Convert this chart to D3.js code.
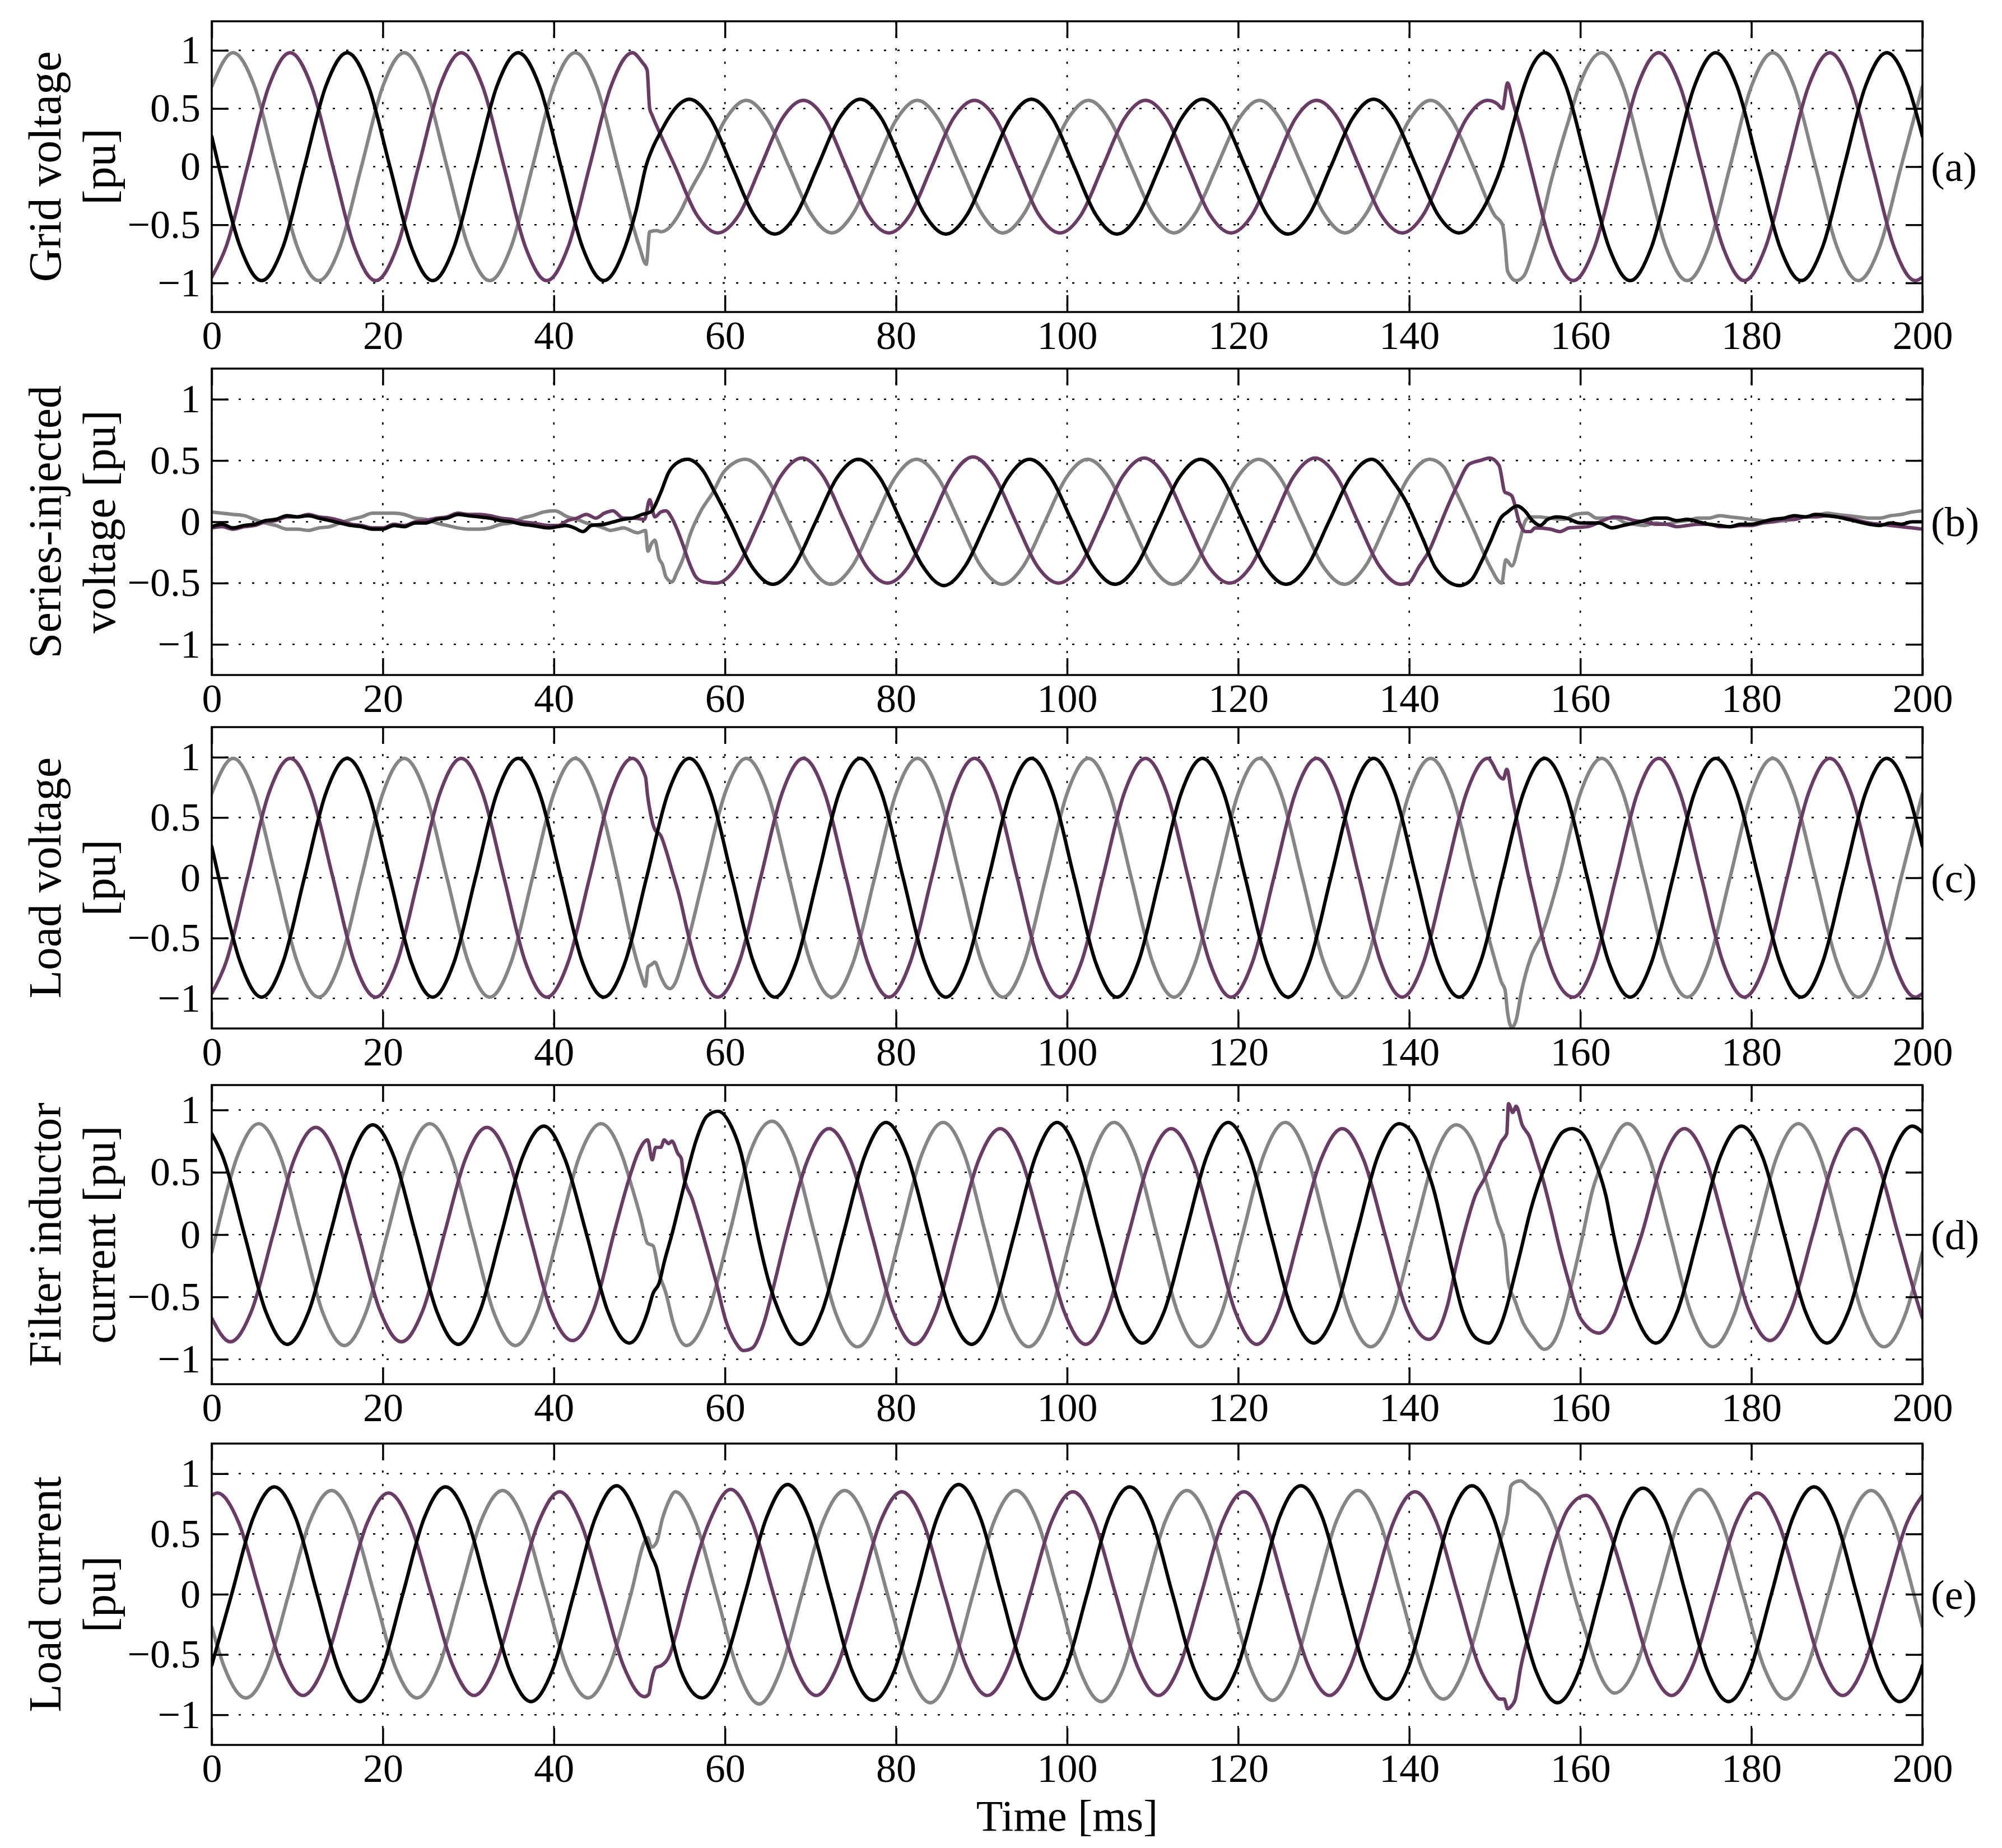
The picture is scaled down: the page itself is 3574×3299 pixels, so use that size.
<!DOCTYPE html>
<html><head><meta charset="utf-8">
<script src="https://cdn.jsdelivr.net/npm/d3@7"></script>
<style>html,body{margin:0;padding:0;background:#fff;}svg{display:block;}</style>
</head><body>
<script>
// ---------------- DATA ----------------
const timeTicks = [0,20,40,60,80,100,120,140,160,180,200];
const valueTicks = [-1,-0.5,0,0.5,1];
const panelLetters = ["(a)","(b)","(c)","(d)","(e)"];
const yLabelLines = [["Grid voltage","[pu]"],["Series-injected","voltage [pu]"],["Load voltage","[pu]"],["Filter inductor","current [pu]"],["Load current","[pu]"]];
const xLabel = "Time [ms]";
const yLimits = [1.25,1.25,1.25,1.2,1.25];

// (a) grid voltage
const gridBlack = [[0,0.26],[0.83,0],[3.33,-0.69],[5.83,-0.98],[8.33,-0.69],[10.83,0],[13.33,0.69],[15.83,0.98],[18.33,0.69],
[20.83,0],[23.33,-0.69],[25.83,-0.98],[28.33,-0.69],[30.83,0],[33.33,0.69],[35.83,0.98],[38.33,0.69],
[40.83,0],[43.33,-0.69],[45.83,-0.98],[48.33,-0.69],[49.6,-0.38],[50.83,0.02],[51.6,0.17],[52.5,0.3],[53.33,0.41],[54.7,0.54],
[55.83,0.58],[58.33,0.41],[60.83,0],[63.33,-0.41],[65.83,-0.58],[68.33,-0.41],[70.83,0],[73.33,0.41],
[75.83,0.58],[78.33,0.41],[80.83,0],[83.33,-0.41],[85.83,-0.58],[88.33,-0.41],[90.83,0],[93.33,0.41],
[95.83,0.58],[98.33,0.41],[100.83,0],[103.33,-0.41],[105.83,-0.58],[108.33,-0.41],[110.83,0],[113.33,0.41],
[115.83,0.58],[118.33,0.41],[120.83,0],[123.33,-0.41],[125.83,-0.58],[128.33,-0.41],[130.83,0],[133.33,0.41],
[135.83,0.58],[138.33,0.41],[140.83,0],[143.33,-0.41],[145.83,-0.57],[148.33,-0.4],[149.6,-0.22],[150.9,0.03],[152.1,0.35],[153.33,0.67],[154.4,0.87],
[155.83,0.98],[158.33,0.69],[160.83,0],[163.33,-0.69],[165.83,-0.98],[168.33,-0.69],[170.83,0],[173.33,0.69],
[175.83,0.98],[178.33,0.69],[180.83,0],[183.33,-0.69],[185.83,-0.98],[188.33,-0.69],[190.83,0],[193.33,0.69],
[195.83,0.98],[198.33,0.69],[200,0.26]];
const gridPurple = [[0,-0.95],[1.67,-0.69],[4.17,0],[6.67,0.69],[9.17,0.98],[11.67,0.69],[14.17,0],[16.67,-0.69],
[19.17,-0.98],[21.67,-0.69],[24.17,0],[26.67,0.69],[29.17,0.98],[31.67,0.69],[34.17,0],[36.67,-0.69],
[39.17,-0.98],[41.67,-0.69],[44.17,0],[46.67,0.69],[49.17,0.98],[50.3,0.9],[50.9,0.83],[51.2,0.5],[51.5,0.44],[52.5,0.27],
[54.17,0],[56.67,-0.41],[59.17,-0.57],[61.67,-0.41],[64.17,0],[66.67,0.41],[69.17,0.57],[71.67,0.41],
[74.17,0],[76.67,-0.41],[79.17,-0.57],[81.67,-0.41],[84.17,0],[86.67,0.41],[89.17,0.57],[91.67,0.41],
[94.17,0],[96.67,-0.41],[99.17,-0.57],[101.67,-0.41],[104.17,0],[106.67,0.41],[109.17,0.57],[111.67,0.41],
[114.17,0],[116.67,-0.41],[119.17,-0.57],[121.67,-0.41],[124.17,0],[126.67,0.41],[129.17,0.57],[131.67,0.41],
[134.17,0],[136.67,-0.41],[139.17,-0.57],[141.67,-0.41],[144.17,0],[146.67,0.41],[149.17,0.57],[150.3,0.54],[150.9,0.5],[151.5,0.72],[152.1,0.56],[153.2,0.28],
[154.17,0],[156.67,-0.69],[159.17,-0.98],[161.67,-0.69],[164.17,0],[166.67,0.69],[169.17,0.98],[171.67,0.69],
[174.17,0],[176.67,-0.69],[179.17,-0.98],[181.67,-0.69],[184.17,0],[186.67,0.69],[189.17,0.98],[191.67,0.69],
[194.17,0],[196.67,-0.69],[199.17,-0.98],[200,-0.95]];
const gridGray = [[0,0.69],[2.5,0.98],[5,0.69],[7.5,0],[10,-0.69],[12.5,-0.98],[15,-0.69],[17.5,0],
[20,0.69],[22.5,0.98],[25,0.69],[27.5,0],[30,-0.69],[32.5,-0.98],[35,-0.69],[37.5,0],
[40,0.69],[42.5,0.98],[45,0.69],[47.5,0],[50,-0.69],[50.8,-0.84],[51.2,-0.56],[52,-0.55],[52.5,-0.56],[53.4,-0.53],[54.7,-0.4],[56,-0.2],
[57.5,0],[60,0.4],[62.5,0.57],[65,0.4],[67.5,0],[70,-0.4],[72.5,-0.57],[75,-0.4],
[77.5,0],[80,0.4],[82.5,0.57],[85,0.4],[87.5,0],[90,-0.4],[92.5,-0.57],[95,-0.4],
[97.5,0],[100,0.4],[102.5,0.57],[105,0.4],[107.5,0],[110,-0.4],[112.5,-0.57],[115,-0.4],
[117.5,0],[120,0.4],[122.5,0.57],[125,0.4],[127.5,0],[130,-0.4],[132.5,-0.57],[135,-0.4],
[137.5,0],[140,0.4],[142.5,0.57],[145,0.4],[147.5,0],[150,-0.42],[150.9,-0.5],[151.2,-0.66],[151.5,-0.9],[152.5,-0.98],[153.4,-0.94],[154.3,-0.77],[155.4,-0.5],[156.5,-0.15],[157.5,0.12],[158.6,0.39],
[160,0.72],[162.5,0.98],[165,0.69],[167.5,0],[170,-0.69],[172.5,-0.98],[175,-0.69],[177.5,0],
[180,0.69],[182.5,0.98],[185,0.69],[187.5,0],[190,-0.69],[192.5,-0.98],[195,-0.69],[197.5,0],[200,0.69]];

// (b) series-injected voltage
const injBlack = [[0,-0.04],[1.2,-0.02],[2.5,-0.05],[3.8,-0.03],[5,-0.02],[6.3,0.01],[7.5,0.02],[8.8,0.05],[10,0.04],[11.3,0.05],[12.5,0.03],[13.8,0.01],[15,-0.01],[16.3,-0.03],[17.5,-0.04],[18.8,-0.06],[20,-0.06],[21.3,-0.03],[22.5,-0.04],[23.8,-0.01],[25,-0.01],[26.3,0.02],[27.5,0.03],[28.8,0.06],[30,0.05],[31.3,0.04],[32.5,0.03],[33.8,0.01],[35,0],[36.3,-0.02],[37.5,-0.03],
[39.4,-0.05],[40.4,-0.04],[41.4,-0.03],[42.4,-0.05],[43.4,-0.08],[44.4,-0.03],[45.9,-0.02],[47,0],[48.1,0.02],[49.2,0.03],[50.3,0.06],[51.3,0.08],[52.5,0.24],[53.4,0.4],[54.2,0.47],
[55.6,0.51],[57.5,0.41],[58.6,0.27],[60.6,0],[63.1,-0.36],[65.6,-0.51],[68.1,-0.36],[70.6,0],[73.1,0.36],
[75.6,0.51],[78.1,0.36],[80.6,0],[83.1,-0.36],[85.6,-0.52],[88.1,-0.36],[90.6,0],[93.1,0.36],
[95.6,0.51],[98.1,0.36],[100.6,0],[103.1,-0.36],[105.6,-0.51],[108.1,-0.36],[110.6,0],[113.1,0.36],
[115.6,0.51],[118.1,0.36],[120.6,0],[123.1,-0.36],[125.6,-0.51],[128.1,-0.36],[130.6,0],[133.1,0.36],
[135.6,0.51],[138.1,0.33],[139.5,0.18],[141.6,-0.14],[143.1,-0.38],[145.9,-0.52],[147.3,-0.47],[148.4,-0.33],[149.5,-0.16],[150.8,0.04],[151.5,0.08],[152.6,0.13],[153.5,0.09],[154.4,0.01],[155.3,-0.03],[156.2,0.02],[157.3,0.04],[158.4,0.03],[160,-0.01],[162.2,-0.01],[163.7,-0.05],[165,-0.03],
[166.3,-0.01],[167.5,0.01],[168.8,0.03],[170,0.03],[171.3,0.01],[172.5,0.02],[173.8,0],[175,-0.02],[176.3,-0.03],[177.5,-0.04],[178.8,-0.02],[180,-0.02],[181.3,0],[182.5,0.02],[183.8,0.03],[185,0.05],[186.3,0.04],[187.5,0.06],[188.8,0.05],[190,0.04],[191.3,0.02],[192.5,0],[193.8,-0.02],[195,-0.03],[196.3,-0.01],[197.5,-0.02],[198.8,0],[200,0]];
const injPurple = [[0,-0.05],[1.2,-0.04],[2.5,-0.06],[3.8,-0.04],[5,-0.03],[6.3,0],[7.5,0.01],[8.8,0.04],[10,0.04],[11.3,0.06],[12.5,0.04],[13.8,0.03],[15,0.01],[16.3,-0.02],[17.5,-0.03],[18.8,-0.05],[20,-0.05],[21.3,-0.02],[22.5,-0.03],[23.8,0],[25,0.01],[26.3,0.03],[27.5,0.04],[28.8,0.07],[30,0.06],[31.3,0.06],[32.5,0.05],[33.8,0.03],[35,0.02],[36.3,0],[37.5,-0.01],
[39.4,-0.03],[40.5,-0.03],[41.6,0.01],[42.7,0.03],[43.8,0.06],[44.9,0.03],[45.9,0.07],[46.9,0.09],[48.1,0.03],[49.2,0.03],[50.6,0.02],[51.2,0.18],[51.8,0.04],[52.5,0.08],[53.1,0.09],[53.8,0.03],[54.4,-0.06],[55.1,-0.19],[55.8,-0.33],[56.6,-0.45],[57.5,-0.49],
[59,-0.5],[61.5,-0.36],[64,0],[66.5,0.37],[69,0.52],[71.5,0.37],[74,0],[76.5,-0.36],
[79,-0.5],[81.5,-0.36],[84,0],[86.5,0.37],[89,0.53],[91.5,0.37],[94,0],[96.5,-0.36],
[99,-0.5],[101.5,-0.36],[104,0],[106.5,0.37],[109,0.52],[111.5,0.37],[114,0],[116.5,-0.36],
[119,-0.5],[121.5,-0.36],[124,0],[126.5,0.37],[129,0.52],[131.5,0.37],[134,0],[136.5,-0.36],
[139,-0.51],[139.9,-0.5],[141.2,-0.36],[142.3,-0.24],[143.4,-0.06],[144.4,0.11],[145.5,0.28],[147,0.47],[148.3,0.5],[149.4,0.52],[150.5,0.46],[151.2,0.24],[151.6,0.23],[152,0.21],[152.9,-0.01],[153.6,-0.08],[154.2,-0.08],[154.7,-0.05],[156.5,-0.06],[157.6,-0.08],[158.7,-0.05],[160.8,-0.04],[163,0.02],[163.9,0.04],[165.3,0.03],
[166.3,0.01],[167.5,0],[168.8,-0.02],[170,-0.02],[171.3,-0.04],[172.5,-0.03],[173.8,-0.02],[175,-0.02],[176.3,-0.04],[177.5,-0.04],[178.8,-0.03],[180,-0.03],[181.3,-0.01],[182.5,0],[183.8,0.02],[185,0.02],[186.3,0.04],[187.5,0.04],[188.8,0.05],[190,0.04],[191.3,0.03],[192.5,0.01],[193.8,-0.01],[195,-0.02],[196.3,-0.03],[197.5,-0.04],[198.8,-0.05],[200,-0.06]];
const injGray = [[0,0.08],[1.2,0.07],[2.5,0.06],[3.8,0.05],[5,0.02],[6.3,-0.01],[7.5,-0.03],[8.8,-0.06],[10,-0.06],[11.3,-0.07],[12.5,-0.05],[13.8,-0.04],[15,-0.01],[16.3,0.02],[17.5,0.04],[18.8,0.07],[20,0.07],[21.3,0.07],[22.5,0.06],[23.8,0.03],[25,0.02],[26.3,-0.01],[27.5,-0.03],[28.8,-0.05],[30,-0.06],[31.3,-0.06],[32.5,-0.05],[33.8,-0.02],[35,-0.01],[36.3,0.03],[37.5,0.05],
[38.8,0.08],[40.1,0.09],[41.6,0.04],[42.7,0.02],[43.8,-0.01],[44.9,-0.03],[45.8,-0.05],[46.6,-0.07],[47.4,-0.06],[48.1,-0.05],[49.8,-0.09],[50.7,-0.07],[51,-0.24],[51.4,-0.18],[51.8,-0.15],[52.3,-0.3],[52.7,-0.35],[53.1,-0.45],[53.8,-0.49],[54.4,-0.41],[55.1,-0.3],[55.9,-0.11],[57.2,0.09],[58.6,0.24],[59.9,0.41],
[62.4,0.51],[64.9,0.36],[67.4,0],[69.9,-0.36],[72.4,-0.51],[74.9,-0.36],[77.4,0],[79.9,0.36],
[82.4,0.51],[84.9,0.36],[87.4,0],[89.9,-0.36],[92.4,-0.51],[94.9,-0.36],[97.4,0],[99.9,0.36],
[102.4,0.51],[104.9,0.36],[107.4,0],[109.9,-0.36],[112.4,-0.51],[114.9,-0.36],[117.4,0],[119.9,0.36],
[122.4,0.51],[124.9,0.36],[127.4,0],[129.9,-0.36],[132.4,-0.51],[134.9,-0.36],[137.4,0],[139.9,0.36],
[142.4,0.51],[144,0.45],[145.5,0.24],[147.7,-0.09],[149.4,-0.36],[150.8,-0.5],[151.3,-0.31],[152,-0.36],[152.9,-0.16],[153.6,0.01],[154.2,0.04],[155.1,0.04],[156.4,0.03],[158.1,0.02],[159.4,0.06],[160.8,0.07],[161.9,0.03],[164.1,0.03],[165.3,-0.01],
[166.3,-0.02],[167.5,-0.03],[168.8,-0.01],[170,-0.02],[171.3,0],[172.5,0.01],[173.8,0.03],[175,0.03],[176.3,0.05],[177.5,0.04],[178.8,0.03],[180,0.02],[181.3,0.01],[182.5,0],[183.8,0.01],[185,0.02],[186.3,0.04],[187.5,0.05],[188.8,0.07],[190,0.06],[191.3,0.05],[192.5,0.04],[193.8,0.03],[195,0.03],[196.3,0.05],[197.5,0.06],[198.8,0.08],[200,0.09]];

// (c) load voltage
const loadBlack = [[0,0.26],[0.83,0],[3.33,-0.7],[5.83,-0.99],[8.33,-0.7],[10.83,0],[13.33,0.7],[15.83,0.99],[18.33,0.7],
[20.83,0],[23.33,-0.7],[25.83,-0.99],[28.33,-0.7],[30.83,0],[33.33,0.7],[35.83,0.99],[38.33,0.7],
[40.83,0],[43.33,-0.7],[45.83,-0.99],[48.33,-0.7],[50.83,0],[53.33,0.7],[55.83,0.99],[58.33,0.7],
[60.83,0],[63.33,-0.7],[65.83,-0.99],[68.33,-0.7],[70.83,0],[73.33,0.7],[75.83,0.99],[78.33,0.7],
[80.83,0],[83.33,-0.7],[85.83,-0.99],[88.33,-0.7],[90.83,0],[93.33,0.7],[95.83,0.99],[98.33,0.7],
[100.83,0],[103.33,-0.7],[105.83,-0.99],[108.33,-0.7],[110.83,0],[113.33,0.7],[115.83,0.99],[118.33,0.7],
[120.83,0],[123.33,-0.7],[125.83,-0.99],[128.33,-0.7],[130.83,0],[133.33,0.7],[135.83,0.99],[138.33,0.7],
[140.83,0],[143.33,-0.7],[145.83,-0.99],[148.33,-0.7],[150.83,0],[153.33,0.7],[155.83,0.99],[158.33,0.7],
[160.83,0],[163.33,-0.7],[165.83,-0.99],[168.33,-0.7],[170.83,0],[173.33,0.7],[175.83,0.99],[178.33,0.7],
[180.83,0],[183.33,-0.7],[185.83,-0.99],[188.33,-0.7],[190.83,0],[193.33,0.7],[195.83,0.99],[198.33,0.7],[200,0.26]];
const loadPurple = [[0,-0.96],[1.67,-0.7],[4.17,0],[6.67,0.7],[9.17,0.99],[11.67,0.7],[14.17,0],[16.67,-0.7],
[19.17,-0.99],[21.67,-0.7],[24.17,0],[26.67,0.7],[29.17,0.99],[31.67,0.7],[34.17,0],[36.67,-0.7],
[39.17,-0.99],[41.67,-0.7],[44.17,0],[46.67,0.7],[49.17,0.99],[50.7,0.84],[50.96,0.68],[51.3,0.53],[51.8,0.4],[52.5,0.35],[53.1,0.23],[53.8,0.06],[54.7,-0.16],[55.6,-0.44],[56.67,-0.72],
[59.17,-0.99],[61.67,-0.7],[64.17,0],[66.67,0.7],[69.17,0.99],[71.67,0.7],[74.17,0],[76.67,-0.7],
[79.17,-0.99],[81.67,-0.7],[84.17,0],[86.67,0.7],[89.17,0.99],[91.67,0.7],[94.17,0],[96.67,-0.7],
[99.17,-0.99],[101.67,-0.7],[104.17,0],[106.67,0.7],[109.17,0.99],[111.67,0.7],[114.17,0],[116.67,-0.7],
[119.17,-0.99],[121.67,-0.7],[124.17,0],[126.67,0.7],[129.17,0.99],[131.67,0.7],[134.17,0],[136.67,-0.7],
[139.17,-0.99],[141.67,-0.7],[144.17,0],[146.67,0.7],[149.17,0.99],[150.7,0.83],[151,0.82],[151.4,0.9],[152,0.68],[152.9,0.37],[153.8,0.06],[154.7,-0.22],[155.8,-0.56],[156.8,-0.78],
[159.17,-0.99],[161.67,-0.7],[164.17,0],[166.67,0.7],[169.17,0.99],[171.67,0.7],[174.17,0],[176.67,-0.7],
[179.17,-0.99],[181.67,-0.7],[184.17,0],[186.67,0.7],[189.17,0.99],[191.67,0.7],[194.17,0],[196.67,-0.7],[199.17,-0.99],[200,-0.96]];
const loadGray = [[0,0.7],[2.5,0.99],[5,0.7],[7.5,0],[10,-0.7],[12.5,-0.99],[15,-0.7],[17.5,0],
[20,0.7],[22.5,0.99],[25,0.7],[27.5,0],[30,-0.7],[32.5,-0.99],[35,-0.7],[37.5,0],
[40,0.7],[42.5,0.99],[45,0.7],[47.5,0],[49,-0.5],[50.3,-0.83],[50.7,-0.9],[51,-0.74],[51.4,-0.72],[51.8,-0.7],[52.5,-0.82],[53.1,-0.9],[53.6,-0.92],[54.2,-0.87],[55,-0.7],
[57.5,0],[60,0.7],[62.5,0.99],[65,0.7],[67.5,0],[70,-0.7],[72.5,-0.99],[75,-0.7],
[77.5,0],[80,0.7],[82.5,0.99],[85,0.7],[87.5,0],[90,-0.7],[92.5,-0.99],[95,-0.7],
[97.5,0],[100,0.7],[102.5,0.99],[105,0.7],[107.5,0],[110,-0.7],[112.5,-0.99],[115,-0.7],
[117.5,0],[120,0.7],[122.5,0.99],[125,0.7],[127.5,0],[130,-0.7],[132.5,-0.99],[135,-0.7],
[137.5,0],[140,0.7],[142.5,0.99],[145,0.7],[147.5,0],[150,-0.68],[150.8,-0.87],[151.2,-0.93],[151.5,-1.12],[152,-1.24],[152.5,-1.18],[153.1,-0.95],[154.2,-0.66],[155.5,-0.47],
[157.5,0],[160,0.7],[162.5,0.99],[165,0.7],[167.5,0],[170,-0.7],[172.5,-0.99],[175,-0.7],
[177.5,0],[180,0.7],[182.5,0.99],[185,0.7],[187.5,0],[190,-0.7],[192.5,-0.99],[195,-0.7],[197.5,0],[200,0.7]];

// (d) filter inductor current
const filtBlack = [[0,0.81],[1.33,0.62],[3.83,0],[6.33,-0.62],[8.83,-0.88],[11.33,-0.62],[13.83,0],[16.33,0.62],
[18.83,0.88],[21.33,0.62],[23.83,0],[26.33,-0.62],[28.83,-0.88],[31.33,-0.62],[33.83,0],[36.33,0.62],
[38.83,0.87],[41.33,0.6],[43.83,0],[46.33,-0.62],[48.83,-0.87],[50.96,-0.62],[51.6,-0.47],[52.3,-0.39],[52.9,-0.22],[53.83,0.01],[54.7,0.25],[55.6,0.5],[56.6,0.75],[57.9,0.95],[59.2,0.99],[60.8,0.86],[61.9,0.65],[63,0.28],[64,-0.06],[65.3,-0.42],
[66.33,-0.62],[68.83,-0.88],[71.33,-0.62],[73.83,0],[76.33,0.63],[78.83,0.9],[81.33,0.63],[83.83,0],
[86.33,-0.62],[88.83,-0.88],[91.33,-0.62],[93.83,0],[96.33,0.63],[98.83,0.9],[101.33,0.63],[103.83,0],
[106.33,-0.62],[108.83,-0.87],[111.33,-0.62],[113.83,0],[116.33,0.63],[118.83,0.9],[121.33,0.63],[123.83,0],
[126.33,-0.62],[128.83,-0.87],[131.33,-0.62],[133.83,0],[136.33,0.63],[138.83,0.89],[140.7,0.78],[141.8,0.58],[142.9,0.35],[144,0.03],[145.1,-0.31],[146.2,-0.61],[147.3,-0.79],[148.6,-0.86],[149.3,-0.87],[150.3,-0.79],[151.4,-0.58],[152.1,-0.39],[153,-0.14],[154.2,0.2],[155.5,0.48],[156.8,0.7],[157.9,0.82],[159,0.85],[159.9,0.83],[160.8,0.75],[161.9,0.56],[163,0.31],[163.83,0.02],[165.1,-0.36],
[166.33,-0.62],[168.83,-0.87],[171.33,-0.62],[173.83,0],[176.33,0.62],[178.83,0.87],[181.33,0.62],[183.83,0],
[186.33,-0.62],[188.83,-0.87],[191.33,-0.62],[193.83,0],[196.33,0.62],[198.83,0.87],[200,0.82]];
const filtPurple = [[0,-0.67],[2.17,-0.86],[4.67,-0.61],[7.17,0],[9.67,0.61],[12.17,0.86],[14.67,0.61],[17.17,0],
[19.67,-0.61],[22.17,-0.86],[24.67,-0.61],[27.17,0],[29.67,0.61],[32.17,0.86],[34.67,0.61],[37.17,0],
[39.67,-0.61],[42.17,-0.85],[44.67,-0.6],[47.17,0.05],[48.8,0.45],[49.8,0.65],[50.96,0.76],[51.5,0.6],[51.9,0.7],[52.5,0.7],[52.9,0.76],[53.4,0.73],[53.8,0.75],[54.5,0.65],[54.9,0.61],[55.1,0.5],[56.2,0.28],[57.3,0.03],[58.2,-0.19],[59,-0.39],[60.1,-0.69],[61.2,-0.86],[62.17,-0.93],[63.2,-0.91],[64.5,-0.72],[65.6,-0.44],
[67.17,0],[69.67,0.6],[72.17,0.85],[74.67,0.6],[77.17,0],[79.67,-0.62],[82.17,-0.88],[84.67,-0.62],
[87.17,0],[89.67,0.6],[92.17,0.85],[94.67,0.6],[97.17,0],[99.67,-0.62],[102.17,-0.88],[104.67,-0.62],
[107.17,0],[109.67,0.6],[112.17,0.85],[114.67,0.6],[117.17,0],[119.67,-0.62],[122.17,-0.88],[124.67,-0.62],
[127.17,0],[129.67,0.6],[132.17,0.85],[134.67,0.6],[137.17,0],[139.67,-0.6],[142.3,-0.84],[144.5,-0.56],[145.5,-0.24],[146.6,0.06],[147.7,0.31],[148.8,0.45],[149.9,0.61],[150.8,0.75],[151.4,0.81],[151.6,1.05],[152.1,0.98],[152.5,1.03],[153.2,0.88],[154.1,0.78],[154.7,0.65],[155.6,0.45],[156.5,0.21],[157.6,-0.11],[158.7,-0.39],[159.8,-0.64],[160.8,-0.74],[162.17,-0.79],[163,-0.76],[164,-0.64],[165.1,-0.42],
[167.17,0],[169.67,0.6],[172.17,0.85],[174.67,0.6],[177.17,0],[179.67,-0.6],[182.17,-0.85],[184.67,-0.6],
[187.17,0],[189.67,0.6],[192.17,0.85],[194.67,0.6],[197.17,0],[199.67,-0.6],[200,-0.67]];
const filtGray = [[0,-0.14],[0.5,0],[3,0.63],[5.5,0.89],[8,0.63],[10.5,0],[13,-0.63],[15.5,-0.89],[18,-0.63],
[20.5,0],[23,0.63],[25.5,0.89],[28,0.63],[30.5,0],[33,-0.63],[35.5,-0.89],[38,-0.63],
[40.5,0],[43,0.63],[45.5,0.89],[48,0.63],[49,0.41],[50.1,0.15],[50.96,-0.07],[51.6,-0.09],[52.3,-0.31],[53.1,-0.47],[54,-0.72],[55.5,-0.89],[58,-0.63],
[60.5,0],[63,0.67],[65.5,0.91],[68,0.65],[70.5,0],[73,-0.64],[75.5,-0.9],[78,-0.64],
[80.5,0],[83,0.64],[85.5,0.9],[88,0.64],[90.5,0],[93,-0.64],[95.5,-0.9],[98,-0.64],
[100.5,0],[103,0.64],[105.5,0.9],[108,0.64],[110.5,0],[113,-0.64],[115.5,-0.9],[118,-0.64],
[120.5,0],[123,0.64],[125.5,0.9],[128,0.64],[130.5,0],[133,-0.64],[135.5,-0.9],[138,-0.64],
[140.5,0],[143,0.63],[145.5,0.88],[148,0.65],[149.2,0.38],[150.3,0.11],[151.2,-0.1],[151.6,-0.39],[152.3,-0.52],[153.4,-0.72],[154.4,-0.82],[155.8,-0.92],[156.8,-0.87],[157.9,-0.69],[159,-0.39],[160.3,0],[161.4,0.35],
[163,0.63],[165.5,0.89],[168,0.63],[170.5,0],[173,-0.64],[175.5,-0.9],[178,-0.64],
[180.5,0],[183,0.63],[185.5,0.89],[188,0.63],[190.5,0],[193,-0.64],[195.5,-0.9],[198,-0.64],[200,-0.14]];

// (e) load current
const curBlack = [[0,-0.59],[2.33,0],[4.83,0.63],[7.33,0.89],[9.83,0.63],[12.33,0],[14.83,-0.63],[17.33,-0.89],[19.83,-0.63],
[22.33,0],[24.83,0.63],[27.33,0.89],[29.83,0.63],[32.33,0],[34.83,-0.63],[37.33,-0.89],[39.83,-0.63],
[42.33,0],[44.83,0.63],[47.33,0.9],[49.83,0.63],[51.4,0.32],[52,0.22],[52.7,0],[54.83,-0.63],[57.33,-0.86],[59.83,-0.6],
[62.33,0],[64.83,0.63],[67.33,0.91],[69.83,0.63],[72.33,0],[74.83,-0.63],[77.33,-0.88],[79.83,-0.63],
[82.33,0],[84.83,0.64],[87.33,0.91],[89.83,0.64],[92.33,0],[94.83,-0.62],[97.33,-0.87],[99.83,-0.62],
[102.33,0],[104.83,0.63],[107.33,0.89],[109.83,0.63],[112.33,0],[114.83,-0.62],[117.33,-0.87],[119.83,-0.62],
[122.33,0],[124.83,0.64],[127.33,0.9],[129.83,0.64],[132.33,0],[134.83,-0.62],[137.33,-0.87],[139.83,-0.62],
[142.33,0],[144.83,0.64],[147.33,0.9],[149.83,0.64],[152.33,0],[154.83,-0.64],[157.33,-0.9],[159.83,-0.64],
[162.33,0],[164.83,0.63],[167.33,0.88],[169.83,0.63],[172.33,0],[174.83,-0.63],[177.33,-0.89],[179.83,-0.63],
[182.33,0],[184.83,0.63],[187.33,0.89],[189.83,0.63],[192.33,0],[194.83,-0.63],[197.33,-0.89],[199.83,-0.63],[200,-0.59]];
const curPurple = [[0,0.82],[0.67,0.84],[3.17,0.59],[5.67,0],[8.17,-0.59],[10.67,-0.84],[13.17,-0.59],[15.67,0],[18.17,0.59],
[20.67,0.84],[23.17,0.59],[25.67,0],[28.17,-0.59],[30.67,-0.84],[33.17,-0.59],[35.67,0],[38.17,0.59],
[40.67,0.85],[43.17,0.59],[45.67,0],[48.17,-0.6],[50.6,-0.85],[51.1,-0.83],[51.4,-0.72],[51.9,-0.61],[52.6,-0.59],[53.5,-0.51],[54.4,-0.3],[55.5,0],[58.17,0.6],
[60.67,0.87],[63.17,0.6],[65.67,0],[68.17,-0.59],[70.67,-0.84],[73.17,-0.59],[75.67,0],[78.17,0.6],
[80.67,0.85],[83.17,0.6],[85.67,0],[88.17,-0.59],[90.67,-0.84],[93.17,-0.59],[95.67,0],[98.17,0.6],
[100.67,0.85],[103.17,0.6],[105.67,0],[108.17,-0.59],[110.67,-0.84],[113.17,-0.59],[115.67,0],[118.17,0.6],
[120.67,0.85],[123.17,0.6],[125.67,0],[128.17,-0.59],[130.67,-0.84],[133.17,-0.59],[135.67,0],[138.17,0.6],
[140.67,0.85],[143.17,0.6],[145.67,0],[148.17,-0.6],[149.7,-0.8],[150.6,-0.87],[151.1,-0.87],[151.5,-0.95],[151.9,-0.93],[152.4,-0.87],[153,-0.62],[154.1,-0.3],[155.2,0],[156.3,0.28],[157.4,0.52],[158.5,0.7],
[160.67,0.82],[163.17,0.56],[165.67,0],[168.17,-0.59],[170.67,-0.84],[173.17,-0.59],[175.67,0],[178.17,0.59],
[180.67,0.84],[183.17,0.59],[185.67,0],[188.17,-0.59],[190.67,-0.84],[193.17,-0.59],[195.67,0],[198.17,0.59],[200,0.82]];
const curGray = [[0,-0.27],[1.5,-0.61],[4,-0.86],[6.5,-0.61],[9,0],[11.5,0.61],[14,0.86],[16.5,0.61],[19,0],
[21.5,-0.61],[24,-0.86],[26.5,-0.61],[29,0],[31.5,0.61],[34,0.86],[36.5,0.61],[39,0],
[41.5,-0.61],[44,-0.86],[46.5,-0.6],[49,0],[50.7,0.45],[50.96,0.47],[51.4,0.39],[52,0.43],[52.7,0.63],[53.3,0.75],[54.2,0.85],[56.5,0.61],[59,0],
[61.5,-0.63],[64,-0.91],[66.5,-0.63],[69,0],[71.5,0.61],[74,0.86],[76.5,0.61],[79,0],
[81.5,-0.63],[84,-0.9],[86.5,-0.63],[89,0],[91.5,0.61],[94,0.86],[96.5,0.61],[99,0],
[101.5,-0.63],[104,-0.89],[106.5,-0.63],[109,0],[111.5,0.61],[114,0.86],[116.5,0.61],[119,0],
[121.5,-0.62],[124,-0.88],[126.5,-0.62],[129,0],[131.5,0.61],[134,0.86],[136.5,0.61],[139,0],
[141.5,-0.62],[144,-0.87],[146.5,-0.61],[149,0],[150.8,0.48],[151.5,0.67],[151.9,0.9],[152.4,0.93],[153,0.94],[154.1,0.88],[155.2,0.82],[156.3,0.7],[157.4,0.5],[158.5,0.2],[159.6,-0.08],[160.7,-0.33],[161.8,-0.58],[162.9,-0.75],[164,-0.82],[166.5,-0.6],
[169,0],[171.5,0.61],[174,0.87],[176.5,0.61],[179,0],[181.5,-0.61],[184,-0.87],[186.5,-0.61],
[189,0],[191.5,0.61],[194,0.86],[196.5,0.61],[199,0],[200,-0.27]];

// ---------------- DRAWING ----------------
const W = 3574, H = 3299;
const left = 378, right = 3432;
const boxes = [[38,557],[658,1205],[1298,1836],[1937,2471],[2577,3115]];
const colors = {black:"#000000", purple:"#6a3c65", gray:"#858585"};
const panelSeries = [
  [[gridGray,"gray"],[gridPurple,"purple"],[gridBlack,"black"]],
  [[injGray,"gray"],[injPurple,"purple"],[injBlack,"black"]],
  [[loadGray,"gray"],[loadPurple,"purple"],[loadBlack,"black"]],
  [[filtGray,"gray"],[filtPurple,"purple"],[filtBlack,"black"]],
  [[curGray,"gray"],[curPurple,"purple"],[curBlack,"black"]]
];
const FONT = "'Liberation Serif','Times New Roman',serif";
const svg = d3.select("body").append("svg").attr("width",W).attr("height",H)
  .style("font-family",FONT).style("background","#fff");
const x = d3.scaleLinear().domain([0,200]).range([left,right]);
const fmt = d => d===0 ? "0" : (d<0 ? "\u2212" : "") + Math.abs(d);

boxes.forEach((b,i)=>{
  const [top,bottom] = b;
  const lim = yLimits[i];
  const y = d3.scaleLinear().domain([-lim,lim]).range([bottom,top]);
  const g = svg.append("g");
  const cid = "clip"+i;
  g.append("clipPath").attr("id",cid).append("rect").attr("x",left).attr("y",top).attr("width",right-left).attr("height",bottom-top);
  // grid
  const grid = g.append("g").attr("stroke","#000").attr("stroke-width",2.6).attr("stroke-dasharray","4 20");
  grid.selectAll("line.v").data(timeTicks).join("line").attr("class","v")
    .attr("x1",d=>x(d)).attr("x2",d=>x(d)).attr("y1",top).attr("y2",bottom);
  grid.selectAll("line.h").data(valueTicks).join("line").attr("class","h")
    .attr("x1",left).attr("x2",right).attr("y1",d=>y(d)).attr("y2",d=>y(d));
  // series
  const line = d3.line().x(d=>x(d[0])).y(d=>y(d[1])).curve(d3.curveMonotoneX);
  const sg = g.append("g").attr("clip-path",`url(#${cid})`);
  panelSeries[i].forEach(([data,c])=>{
    sg.append("path").attr("d",line(data)).attr("fill","none").attr("stroke",colors[c])
      .attr("stroke-width",6.2).attr("stroke-linejoin","round").attr("stroke-linecap","round");
  });
  // axes
  const styleAxis = sel => { sel.select(".domain").remove(); sel.selectAll(".tick line").attr("stroke","#000").attr("stroke-width",3.5);
    sel.selectAll("text").attr("fill","#000"); sel.attr("font-family",FONT).attr("font-size",72); };
  g.append("g").attr("transform",`translate(0,${bottom})`)
    .call(d3.axisBottom(x).tickValues(timeTicks).tickSize(-30).tickPadding(15).tickFormat(d=>d)).call(styleAxis);
  g.append("g").attr("transform",`translate(0,${top})`)
    .call(d3.axisTop(x).tickValues(timeTicks).tickSize(-30).tickFormat("")).call(styleAxis);
  g.append("g").attr("transform",`translate(${left},0)`)
    .call(d3.axisLeft(y).tickValues(valueTicks).tickSize(-30).tickPadding(20).tickFormat(fmt)).call(styleAxis);
  g.append("g").attr("transform",`translate(${right},0)`)
    .call(d3.axisRight(y).tickValues(valueTicks).tickSize(-30).tickFormat("")).call(styleAxis);
  // frame
  g.append("rect").attr("x",left).attr("y",top).attr("width",right-left).attr("height",bottom-top)
    .attr("fill","none").attr("stroke","#000").attr("stroke-width",3.5);
  // panel letter
  const cy = (top+bottom)/2;
  g.append("text").attr("x",3447).attr("y",cy).attr("dy","0.35em").attr("font-size",74).text(panelLetters[i]);
  // y label (two lines)
  const bx = [108,205];
  yLabelLines[i].forEach((t,k)=>{
    g.append("text").attr("transform",`translate(${bx[k]},${cy}) rotate(-90)`)
      .attr("text-anchor","middle").attr("font-size",82).text(t);
  });
});
svg.append("text").attr("x",(left+right)/2).attr("y",3268).attr("text-anchor","middle").attr("font-size",78).text(xLabel);
</script>
</body></html>
